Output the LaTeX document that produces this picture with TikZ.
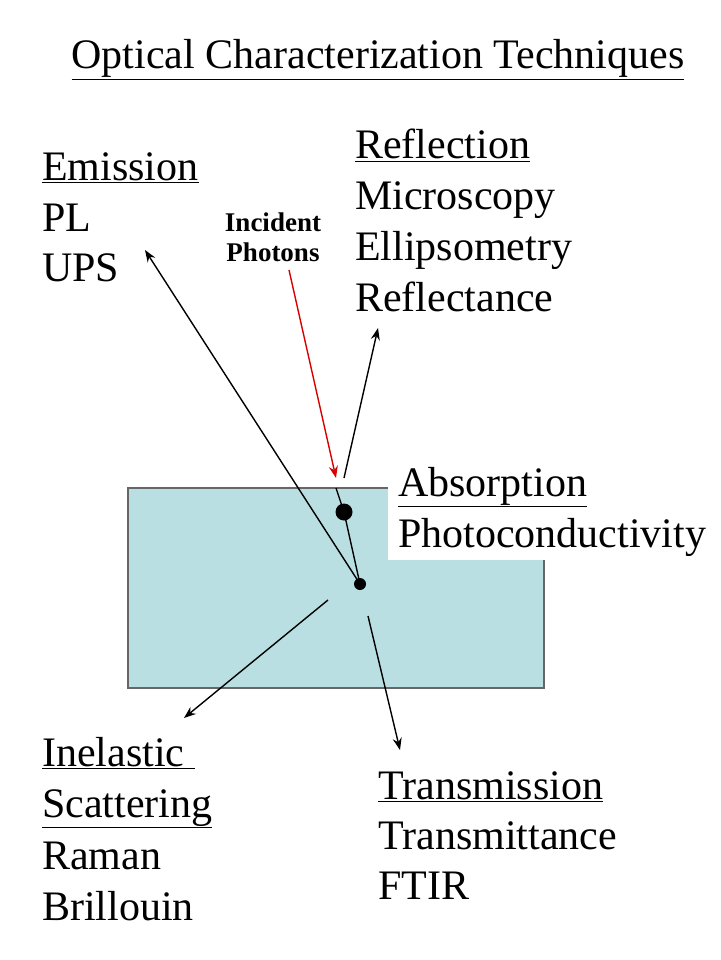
\documentclass[tikz,border=0pt]{standalone}
\usepackage{fontspec}
\setmainfont{Liberation Serif}
\usetikzlibrary{arrows.meta}
\begin{document}
\begin{tikzpicture}[x=1pt,y=-1pt,
  txt/.style={anchor=base west,inner sep=0pt,font=\fontsize{42}{48}\selectfont},
  arr/.style={-{Stealth[length=12pt,width=9pt,inset=4pt]},line width=1.4pt},
  ln/.style={line width=1.4pt}]
\useasboundingbox (0,0) rectangle (720,960);
\draw[fill={rgb,255:red,185;green,223;blue,227},draw=gray!80!black,line width=1.4pt] (128,488) rectangle (544,688);
\fill[white] (388,462) rectangle (712,560);
\node[anchor=base,inner sep=0pt,font=\fontsize{42}{48}\selectfont] (title) at (378,69) {\underline{Optical Characterization Techniques}};
\node[txt] (em1) at (42,180) {\underline{Emission}};
\node[txt] (em2) at (42,231) {PL};
\node[txt] (em3) at (42,281) {UPS};
\node[txt] (re1) at (355,159) {\underline{Reflection}};
\node[txt] (re2) at (355,209) {Microscopy};
\node[txt] (re3) at (355,260) {Ellipsometry};
\node[txt] (re4) at (355,311) {Reflectance};
\node[txt] (ab1) at (398,496) {\underline{Absorption}};
\node[txt] (ab2) at (398,547) {Photoconductivity};
\node[txt] (in1) at (42,766) {\underline{Inelastic\ }};
\node[txt] (in2) at (42,817) {\underline{Scattering}};
\node[txt] (in3) at (42,869) {Raman};
\node[txt] (in4) at (42,920) {Brillouin};
\node[txt] (tr1) at (378,799) {\underline{Transmission}};
\node[txt] (tr2) at (378,849) {Transmittance};
\node[txt] (tr3) at (378,899) {FTIR};
\node[anchor=base,inner sep=0pt,font=\bfseries\fontsize{27}{30}\selectfont,align=center] (inc) at (273,261) {Incident\\Photons};
\coordinate (p0) at (289,270);
\coordinate (p1) at (336,478);
\coordinate (top) at (336,488);
\node[circle,fill=black,inner sep=0pt,minimum size=17pt] (big) at (344,512) {};
\node[circle,fill=black,inner sep=0pt,minimum size=12pt] (small) at (360,584) {};
\coordinate (emt) at (145,250);
\coordinate (ref0) at (344,478);
\coordinate (reft) at (378,328);
\coordinate (ie0) at (328,600);
\coordinate (iet) at (184,718);
\coordinate (tr0) at (368,616);
\coordinate (trt) at (400,750);
\draw[arr,red!85!black] (p0) -- (p1);
\draw[ln] (top) -- (big.center) -- (small.center);
\draw[arr] (small.center) -- (emt);
\draw[arr] (ref0) -- (reft);
\draw[arr] (ie0) -- (iet);
\draw[arr] (tr0) -- (trt);
\end{tikzpicture}
\end{document}
